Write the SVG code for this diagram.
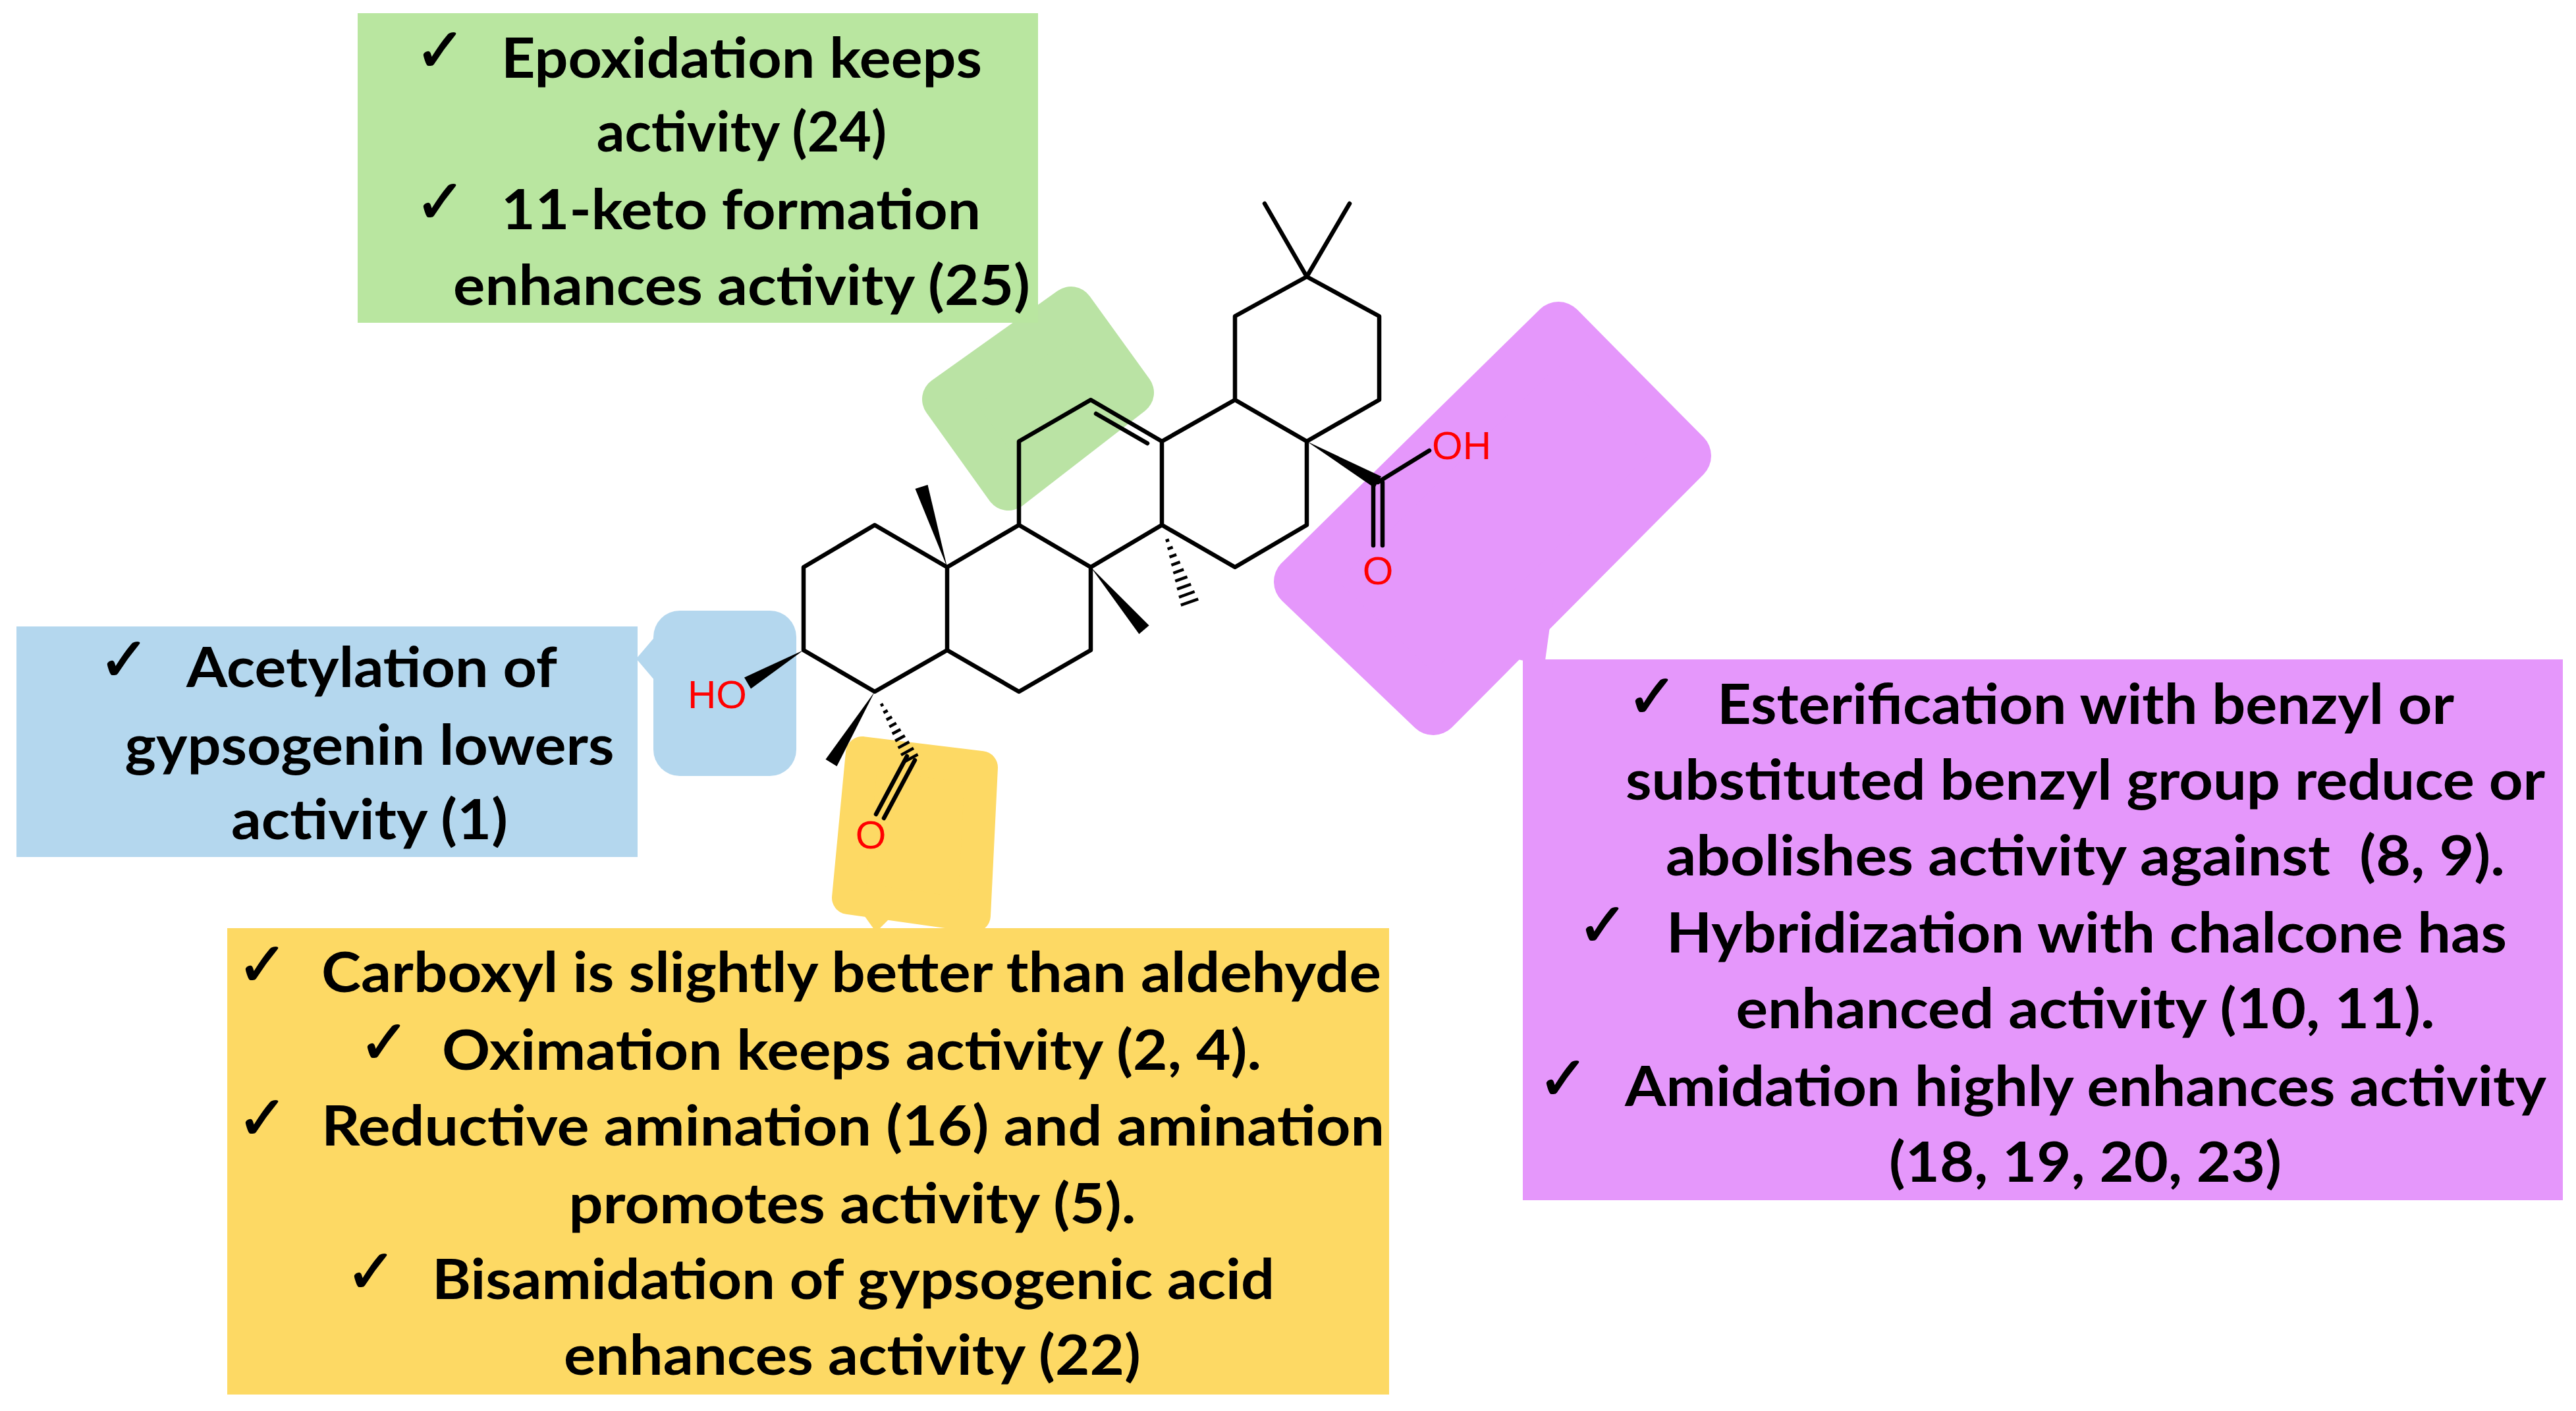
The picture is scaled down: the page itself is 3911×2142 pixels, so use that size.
<svg xmlns="http://www.w3.org/2000/svg" width="3911" height="2142" viewBox="0 0 3911 2142">
<style>
.t{font-family:Lato,"Open Sans","Liberation Sans",sans-serif;font-weight:bold;font-size:84px;fill:#000}
.c{font-family:"DejaVu Sans",sans-serif;font-size:92px;fill:#000;stroke:#000;stroke-width:2}
.m{text-anchor:middle}
.b{stroke:#000;stroke-width:6.5;fill:none;stroke-linecap:round;stroke-linejoin:round}
.h{stroke:#000;stroke-width:4.5}
.r{font-family:"Liberation Sans",Arial,sans-serif;font-size:60px;fill:#ff0000}
</style>
<rect width="3911" height="2142" fill="#fff"/>
<g id="callouts">
<polygon points="1435,606 1626,470 1717,596 1531,740" fill="#b3e09b" stroke="#b3e09b" stroke-width="70" stroke-linejoin="round" opacity="0.9"/>
<g fill="#b4d7ee"><rect x="992" y="927" width="217" height="251" rx="40"/><polygon points="966,1000 1000,960 1000,1040"/></g>
<g fill="#fdd964"><polygon points="1309,1143 1490,1165 1479,1390 1288,1363" stroke="#fdd964" stroke-width="50" stroke-linejoin="round"/><polygon points="1305,1380 1360,1385 1330,1415"/></g>
<g fill="#e597fb"><polygon points="2366,498 2558,692 2176,1076 1974,883" stroke="#e597fb" stroke-width="80" stroke-linejoin="round"/><polygon points="2300,1000 2360,900 2345,1010"/></g>
</g>
<g id="green-box"><rect x="543" y="20" width="1033" height="470" fill="#b9e6a0"/>
<text class="c" x="630" y="108">✓</text><text class="t" x="761" y="118" textLength="730" lengthAdjust="spacingAndGlyphs">Epoxidation keeps</text>
<text class="t m" x="1126" y="230">activity (24)</text>
<text class="c" x="630" y="338">✓</text><text class="t" x="761" y="348" textLength="728" lengthAdjust="spacingAndGlyphs">11-keto formation</text>
<text class="t m" x="1126" y="463" textLength="876" lengthAdjust="spacingAndGlyphs">enhances activity (25)</text></g>
<g id="blue-box"><rect x="25" y="951" width="943" height="350" fill="#b4d7ee"/>
<text class="c" x="150" y="1033">✓</text><text class="t" x="283" y="1043" textLength="563" lengthAdjust="spacingAndGlyphs">Acetylation of</text>
<text class="t m" x="561" y="1161" textLength="743" lengthAdjust="spacingAndGlyphs">gypsogenin lowers</text>
<text class="t m" x="561" y="1274" textLength="420" lengthAdjust="spacingAndGlyphs">activity (1)</text></g>
<g id="yellow-box"><rect x="345" y="1409" width="1764" height="708" fill="#fdd964"/>
<text class="c" x="360" y="1496">✓</text><text class="t" x="488" y="1506" textLength="1609" lengthAdjust="spacingAndGlyphs">Carboxyl is slightly better than aldehyde</text>
<text class="c" x="545" y="1614">✓</text><text class="t" x="671" y="1624" textLength="1244" lengthAdjust="spacingAndGlyphs">Oximation keeps activity (2, 4).</text>
<text class="c" x="360" y="1729">✓</text><text class="t" x="488" y="1739" textLength="1614" lengthAdjust="spacingAndGlyphs">Reductive amination (16) and amination</text>
<text class="t m" x="1294" y="1857" textLength="861" lengthAdjust="spacingAndGlyphs">promotes activity (5).</text>
<text class="c" x="525" y="1962">✓</text><text class="t" x="656" y="1972" textLength="1279" lengthAdjust="spacingAndGlyphs">Bisamidation of gypsogenic acid</text>
<text class="t m" x="1294" y="2087" textLength="876" lengthAdjust="spacingAndGlyphs">enhances activity (22)</text></g>
<g id="purple-box"><rect x="2312" y="1001" width="1579" height="821" fill="#e597fb"/>
<text class="c" x="2470" y="1089">✓</text><text class="t" x="2607" y="1099" textLength="1119" lengthAdjust="spacingAndGlyphs">Esterification with benzyl or</text>
<text class="t m" x="3166" y="1214" textLength="1396" lengthAdjust="spacingAndGlyphs">substituted benzyl group reduce or</text>
<text class="t m" x="3166" y="1329" textLength="1274" lengthAdjust="spacingAndGlyphs" xml:space="preserve">abolishes activity against  (8, 9).</text>
<text class="c" x="2395" y="1436">✓</text><text class="t" x="2530" y="1446" textLength="1276" lengthAdjust="spacingAndGlyphs">Hybridization with chalcone has</text>
<text class="t m" x="3166" y="1561" textLength="1061" lengthAdjust="spacingAndGlyphs">enhanced activity (10, 11).</text>
<text class="c" x="2335" y="1669">✓</text><text class="t" x="2467" y="1679" textLength="1399" lengthAdjust="spacingAndGlyphs">Amidation highly enhances activity</text>
<text class="t m" x="3166" y="1794" textLength="596" lengthAdjust="spacingAndGlyphs">(18, 19, 20, 23)</text></g>
<g id="molecule">
<path class="b" d="M1220,861 L1328,797 L1438,861 L1438,987 L1328,1050 L1220,987 Z M1438,861 L1547,797 L1656,861 L1656,987 L1547,1050 L1438,987 M1547,797 L1547,670 L1656,607 L1764,670 L1764,797 L1656,861 M1764,670 L1875,607 L1984,670 L1984,797 L1875,861 L1764,797 M1875,607 L1875,480 L1984,420 L2094,480 L2094,607 L1984,670 M1984,420 L1920,309 M1984,420 L2049,309 M1664,628 L1742,673 M2092,732 L2170,684 M2085,732 L2085,828 M2099,732 L2099,828 M1389,1154 L1342,1242 M1377,1148 L1330,1236"/>
<g fill="#000"><polygon points="1438,861 1408.5,736 1389.5,742"/><polygon points="1656,861 1744.6,949.5 1729.4,962.5"/><polygon points="1984,670 2087,740.7 2097,723.3"/><polygon points="1220,987 1140,1045.6 1130,1028.4"/><polygon points="1328,1050 1270.5,1163.2 1253.5,1152.8"/></g>
<path class="h" d="M1769.8,821.3L1775,819.5M1772.6,833.5L1780.6,830.7M1775.5,845.7L1786.1,841.9M1778.4,857.9L1791.6,853.1M1781.3,870L1797.1,864.4M1784.2,882.2L1802.6,875.6M1787,894.4L1808.2,886.8M1789.9,906.6L1813.7,898M1792.8,918.7L1819.2,909.3"/>
<path class="h" d="M1336.9,1071.3L1341.1,1069.1M1341.3,1082L1347.7,1078.6M1345.8,1092.7L1354.2,1088.1M1350.2,1103.4L1360.8,1097.6M1354.7,1114L1367.3,1107.2M1359.1,1124.7L1373.9,1116.7M1363.6,1135.4L1380.4,1126.2M1368,1146.1L1387,1135.7M1372.5,1156.7L1393.5,1145.3"/>
<text class="r" x="2174" y="697">OH</text>
<text class="r m" x="2092" y="887">O</text>
<text class="r m" x="1089" y="1075">HO</text>
<text class="r m" x="1322" y="1288">O</text>
</g>
</svg>
